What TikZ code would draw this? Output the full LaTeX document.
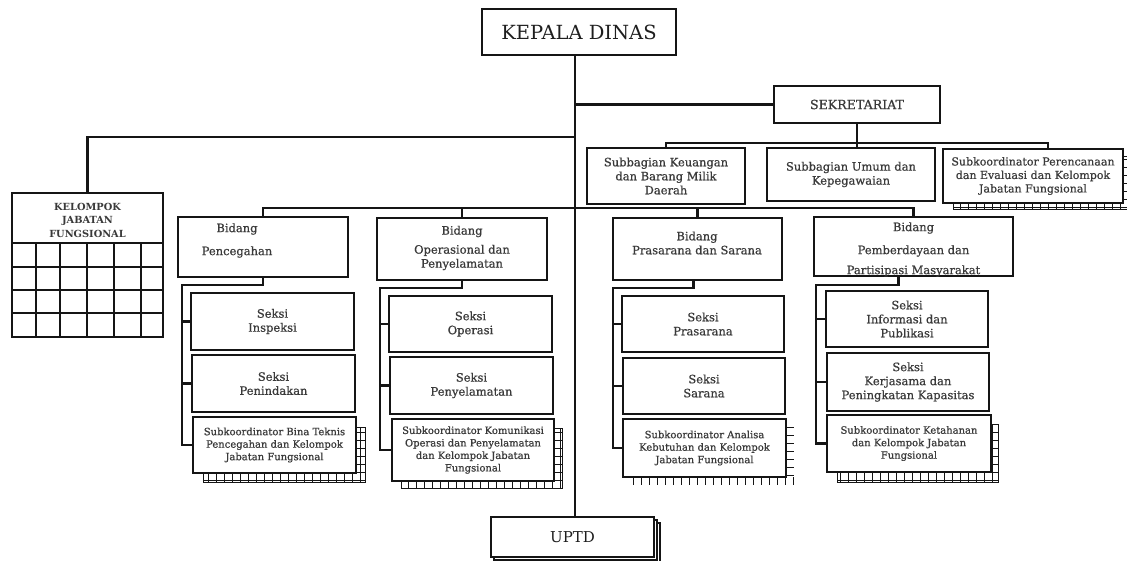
\documentclass[tikz,border=0pt]{standalone}
\usepackage{fontspec}
\setmainfont{DejaVu Serif}
\newfontfamily\sbfont{DejaVu Serif}[FakeBold=0.7]
\usetikzlibrary{calc}
\definecolor{txt}{HTML}{3A3A3A}
\definecolor{dark}{HTML}{1E1E1E}
\definecolor{ln}{HTML}{151515}
\tikzset{
  box/.style={draw=ln, line width=2.2pt, fill=white, inner sep=0pt, text=txt, align=center},
  conn/.style={draw=ln, line width=2.2pt},
  gridln/.style={draw=ln, line width=1pt},
  tx/.style={text=txt, align=center, inner sep=0pt},
  fA/.style={font=\sbfont\fontsize{11.5}{14}\selectfont},
  fB/.style={font=\sbfont\fontsize{10}{12.5}\selectfont},
  fC/.style={font=\sbfont\fontsize{11}{13.5}\selectfont},
  fS/.style={font=\sbfont\fontsize{12.6}{15}\selectfont},
}
\newcommand{\orgbox}[7]{%
  \node[box,#6,minimum width={(#4-#2)*1pt},minimum height={(#5-#3)*1pt}] (#1) at ({(#2+#4)/2},{(#3+#5)/2}) {#7};}
\newcommand{\gridshadow}[4]{%
  \fill[white] (#1,#2) rectangle (#3,#4);
  \begin{scope}
    \clip (#1,#2) rectangle (#3,#4);
    \draw[gridln] (#1,#4) grid[step=8pt] (#3,#2);
  \end{scope}
  \draw[gridln] (#1,#2) rectangle (#3,#4);}
\begin{document}
\begin{tikzpicture}[x=1pt,y=-1pt]
\fill[white] (0,0) rectangle (1127,561);
\useasboundingbox (0,0) rectangle (1127,561);

% top level
\orgbox{kd}{482}{9}{676}{55}{text=dark,font=\fontsize{19.5}{23}\selectfont}{KEPALA DINAS}
\orgbox{sek}{774}{86}{940}{123}{fS}{SEKRETARIAT}

% sekretariat children
\orgbox{sk1}{587}{148}{745}{204}{fA}{Subbagian Keuangan\\dan Barang Milik\\Daerah}
\orgbox{sk2}{767}{148}{935}{201}{fA}{Subbagian Umum dan\\Kepegawaian}
\gridshadow{953}{157}{1127}{210}
\orgbox{sk3}{943}{149}{1123}{203}{fC}{Subkoordinator Perencanaan\\dan Evaluasi dan Kelompok\\Jabatan Fungsional}

% kelompok jabatan fungsional
\orgbox{kel}{12}{193}{163}{337}{}{}
\foreach \y in {243,267,290,313} \draw[conn] (12,\y) -- (163,\y);
\foreach \x in {36,60,87,114,141} \draw[conn] (\x,243) -- (\x,337);
\node[tx,font=\bfseries\fontsize{9.8}{13.5}\selectfont] (kelt) at (87.5,220) {KELOMPOK\\JABATAN\\FUNGSIONAL};

% Bidang Pencegahan
\orgbox{bp}{178}{217}{348}{277}{}{}
\node[tx,fA] (bpt) at (237,240.5) {Bidang\\[9pt]Pencegahan};
\orgbox{s11}{191}{293}{354}{350}{fA}{Seksi\\Inspeksi}
\orgbox{s12}{192}{355}{355}{412}{fA}{Seksi\\Penindakan}
\gridshadow{203}{427}{365}{482}
\orgbox{s13}{193}{417}{356}{473}{fB}{Subkoordinator Bina Teknis\\Pencegahan dan Kelompok\\Jabatan Fungsional}

% Bidang Operasional
\orgbox{bo}{377}{218}{547}{280}{}{}
\node[tx,fA] (bot) at (462,248) {Bidang\\[5pt]Operasional dan\\Penyelamatan};
\orgbox{s21}{389}{296}{552}{352}{fA}{Seksi\\Operasi}
\orgbox{s22}{390}{357}{553}{414}{fA}{Seksi\\Penyelamatan}
\gridshadow{401}{428}{562}{488}
\orgbox{s23}{392}{419}{554}{481}{fB}{Subkoordinator Komunikasi\\Operasi dan Penyelamatan\\dan Kelompok Jabatan\\Fungsional}

% Bidang Prasarana
\orgbox{bs}{613}{218}{782}{280}{}{}
\node[tx,fA] (bst) at (697,243) {Bidang\\Prasarana dan Sarana};
\orgbox{s31}{622}{296}{784}{352}{fA}{Seksi\\Prasarana}
\orgbox{s32}{623}{358}{785}{414}{fA}{Seksi\\Sarana}
\foreach \x in {633,641,...,793} \draw[gridln] (\x,477) -- (\x,485);
\foreach \y in {427,435,...,475} \draw[gridln] (786,\y) -- (794,\y);
\orgbox{s33}{623}{419}{786}{477}{fB}{Subkoordinator Analisa\\Kebutuhan dan Kelompok\\Jabatan Fungsional}

% Bidang Pemberdayaan
\orgbox{bd}{814}{217}{1013}{276}{}{}
\node[tx,fA] (bdt) at (913.5,249.5) {Bidang\\[9pt]Pemberdayaan dan\\[6pt]Partisipasi Masyarakat};
\orgbox{s41}{826}{291}{988}{347}{fA}{Seksi\\Informasi dan\\Publikasi}
\orgbox{s42}{827}{353}{989}{411}{fA}{Seksi\\Kerjasama dan\\Peningkatan Kapasitas}
\gridshadow{837}{424}{998}{482}
\orgbox{s43}{827}{415}{991}{472}{fB}{Subkoordinator Ketahanan\\dan Kelompok Jabatan\\Fungsional}

% UPTD
\draw[box] (497,523) rectangle (660,563);
\draw[box] (494,520) rectangle (657,560);
\orgbox{uptd}{491}{517}{654}{557}{text=dark,font=\fontsize{15}{18}\selectfont}{UPTD}

% connectors
\coordinate (ml) at ([xshift=-4pt]kd.south);
\draw[conn] (ml) -- (ml |- uptd.north);
\draw[conn] (ml |- 0,137) -| (kel.north);
\draw[conn] (ml |- sek.west) -- (sek.west);
\draw[conn] (sek.south) -- (sek.south |- sk2.north);
\coordinate (s3in) at ([xshift=15pt]sk3.north);
\draw[conn] (sk1.north) |- (s3in |- 0,143) -- (s3in);
\draw[conn] (bp.north) |- (bd.north |- 0,208) -- (bd.north);
\draw[conn] (bo.north) -- (bo.north |- 0,208);
\draw[conn] (bs.north) -- (bs.north |- 0,208);

\coordinate (cp) at (182,285);
\draw[conn] (bp.south) |- (cp) |- (s13.west);
\draw[conn] (cp |- s11.west) -- (s11.west);
\draw[conn] (cp |- s12.west) -- (s12.west);

\coordinate (co) at (380,288);
\draw[conn] (bo.south) |- (co) |- (s23.west);
\draw[conn] (co |- s21.west) -- (s21.west);
\draw[conn] (co |- s22.west) -- (s22.west);

\coordinate (cs) at (613,288);
\draw[conn] ([xshift=-4pt]bs.south) |- (cs) |- (s33.west);
\draw[conn] (cs |- s31.west) -- (s31.west);
\draw[conn] (cs |- s32.west) -- (s32.west);

\coordinate (cd) at (816,285);
\draw[conn] ([xshift=-15pt]bd.south) |- (cd) |- (s43.west);
\draw[conn] (cd |- s41.west) -- (s41.west);
\draw[conn] (cd |- s42.west) -- (s42.west);
\end{tikzpicture}
\end{document}
